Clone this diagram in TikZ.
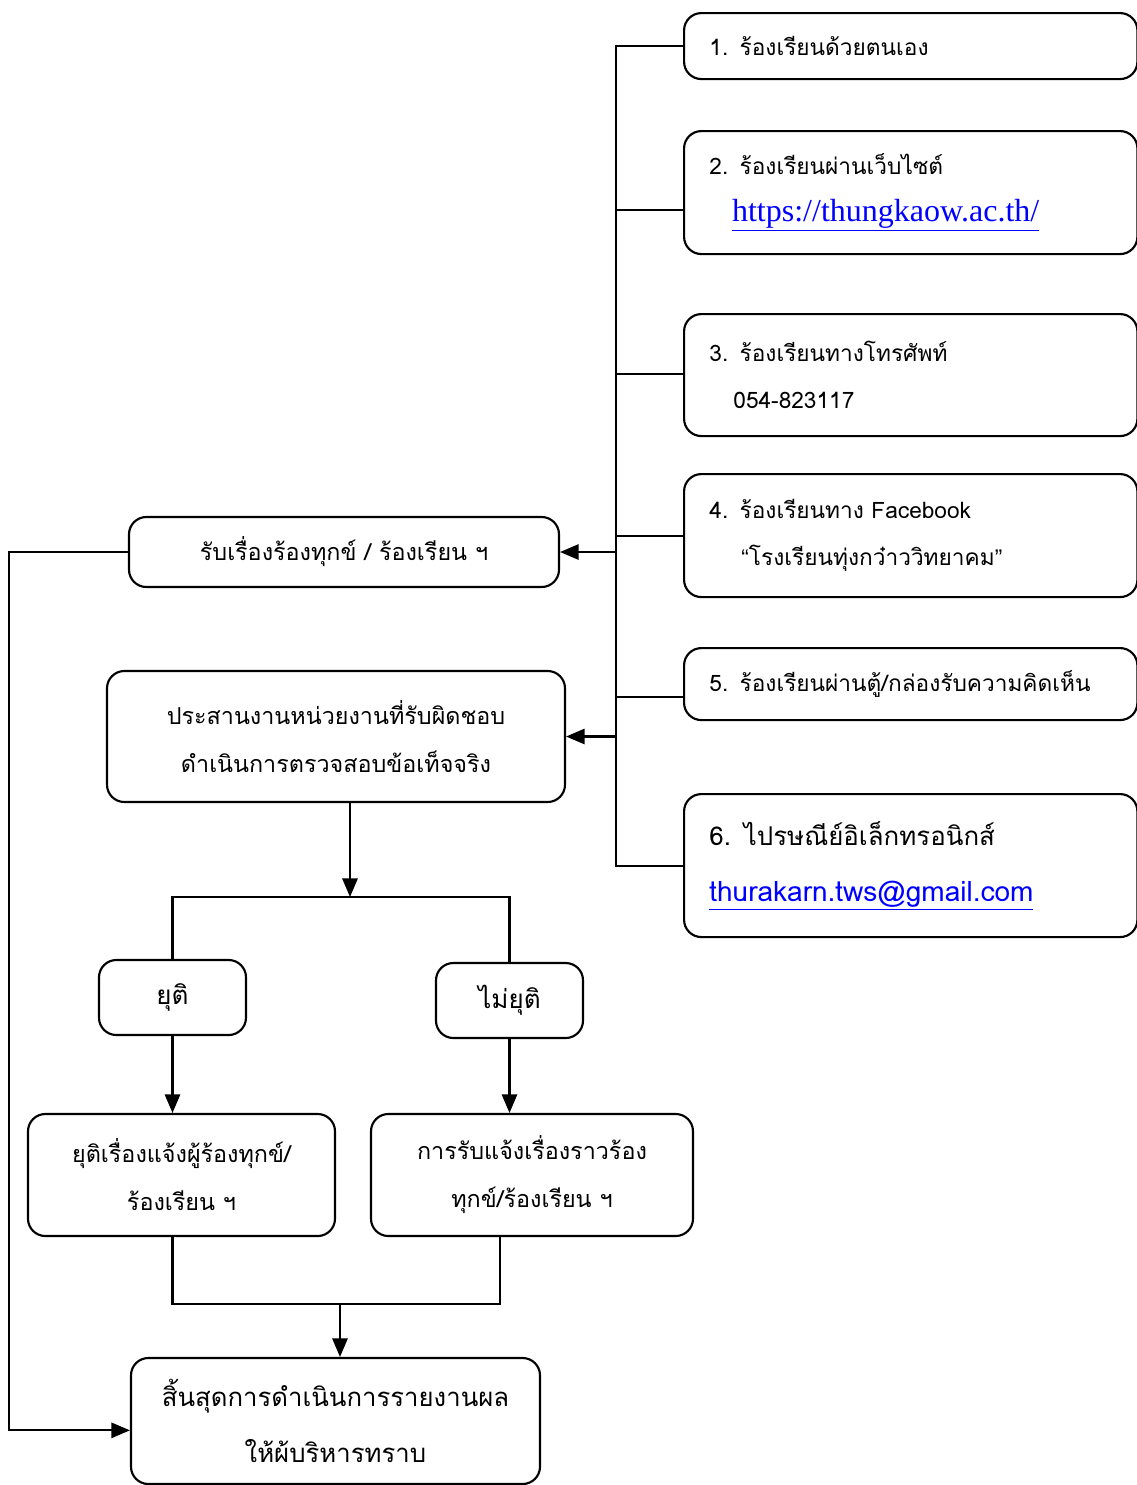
\documentclass[tikz,border=0pt]{standalone}
\usepackage{fontspec}
\setmainfont[Script=Thai]{Loma}
\newfontfamily\urlfont{Liberation Serif}
\newfontfamily\quotefont{Liberation Sans}
\usetikzlibrary{arrows.meta}
\definecolor{linkblue}{RGB}{0,0,255}

\tikzset{
  box/.style={draw, line width=1.6pt, rounded corners=13pt, align=center,
    font=\fontsize{17.5}{36}\selectfont},
  bigbox/.style={box, font=\fontsize{19.3}{42}\selectfont},
  srcbox/.style={box, anchor=north west, align=left, text width=302pt,
    inner xsep=19pt, font=\fontsize{17}{35}\selectfont},
  link/.style={line width=1.6pt},
  arr/.style={line width=1.6pt, -{Triangle[length=14pt,width=11.5pt]}}
}

\begin{document}
\begin{tikzpicture}[x=0.75pt, y=-0.75pt]
\useasboundingbox (0,0) rectangle (1136,1485);

% channels for complaints
\node[srcbox, minimum height=49.5pt] (R1) at (683,12) {1. ร้องเรียนด้วยตนเอง};
\node[srcbox, minimum height=92.25pt] (R2) at (683,130) {2. ร้องเรียนผ่านเว็บไซต์\\
  \hspace*{17pt}{\urlfont\fontsize{24}{24}\selectfont\color{linkblue}\underline{https://thungkaow.ac.th/}}};
\node[srcbox, minimum height=91.5pt] (R3) at (683,313) {3. ร้องเรียนทางโทรศัพท์\\ \hspace*{18pt}054-823117};
\node[srcbox, minimum height=92.25pt] (R4) at (683,473) {4. ร้องเรียนทาง Facebook\\ \hspace*{24pt}{\quotefont“}โรงเรียนทุ่งกว๋าววิทยาคม{\quotefont”}};
\node[srcbox, minimum height=54pt] (R5) at (683,647) {5. ร้องเรียนผ่านตู้/กล่องรับความคิดเห็น};
\node[srcbox, minimum height=107.25pt, font=\fontsize{19.4}{42}\selectfont] (R6) at (683,793)
  {6. ไปรษณีย์อิเล็กทรอนิกส์\\ {\fontsize{21}{42}\selectfont\color{linkblue}\underline{thurakarn.tws@gmail.com}}};

% main flow
\node[box, minimum width=322.5pt, minimum height=52.5pt] (A) at (344,552) {รับเรื่องร้องทุกข์ / ร้องเรียน ฯ};
\node[box, minimum width=343.5pt, minimum height=98.25pt] (B) at (336,736.5)
  {ประสานงานหน่วยงานที่รับผิดชอบ\\ ดำเนินการตรวจสอบข้อเท็จจริง};
\node[box, minimum width=110.25pt, minimum height=56.25pt, font=\fontsize{19.5}{36}\selectfont] (C) at (172.5,997.5) {ยุติ};
\node[box, minimum width=110.25pt, minimum height=56.25pt, font=\fontsize{19.5}{36}\selectfont] (D) at (509.5,1000.5) {ไม่ยุติ};
\node[box, minimum width=230.25pt, minimum height=91.5pt] (E) at (181.5,1175)
  {ยุติเรื่องแจ้งผู้ร้องทุกข์/\\ ร้องเรียน ฯ};
\node[box, minimum width=241.5pt, minimum height=91.5pt] (F) at (532,1175)
  {การรับแจ้งเรื่องราวร้อง\\ ทุกข์/ร้องเรียน ฯ};
\node[bigbox, minimum width=306.75pt, minimum height=94.5pt] (G) at (335.5,1421)
  {สิ้นสุดการดำเนินการรายงานผล\\ ให้ผ้บริหารทราบ};

% collecting line
\coordinate (T) at (616,44);
\draw[link] (R1.west) -- (R1.west -| T) -- (R6.west -| T) -- (R6.west);
\foreach \n/\s in {R2/-13pt, R3/1pt, R4/0pt, R5/-10pt}
  \draw[link] ([yshift=\s]\n.west) -- ++(-67,0);
\draw[arr] (T |- A.east) -- (A.east);
\draw[arr] (T |- B.east) -- (B.east);

% back to the end
\draw[arr] (A.west) -- ++(-119,0) |- ([yshift=-7pt]G.west);

\coordinate (J) at (350,897);
\draw[arr] (B.south -| J) -- (J);
\draw[link] (C.north) |- (J) -| (D.north);
\draw[arr] (C.south) -- (C.south |- E.north);
\draw[arr] (D.south) -- (D.south |- F.north);

\coordinate (K) at (340,1304);
\draw[link] (E.south -| C.south) |- (K) -| ([xshift=-24pt]F.south);
\draw[arr] (K) -- (K |- G.north);
\end{tikzpicture}
\end{document}
